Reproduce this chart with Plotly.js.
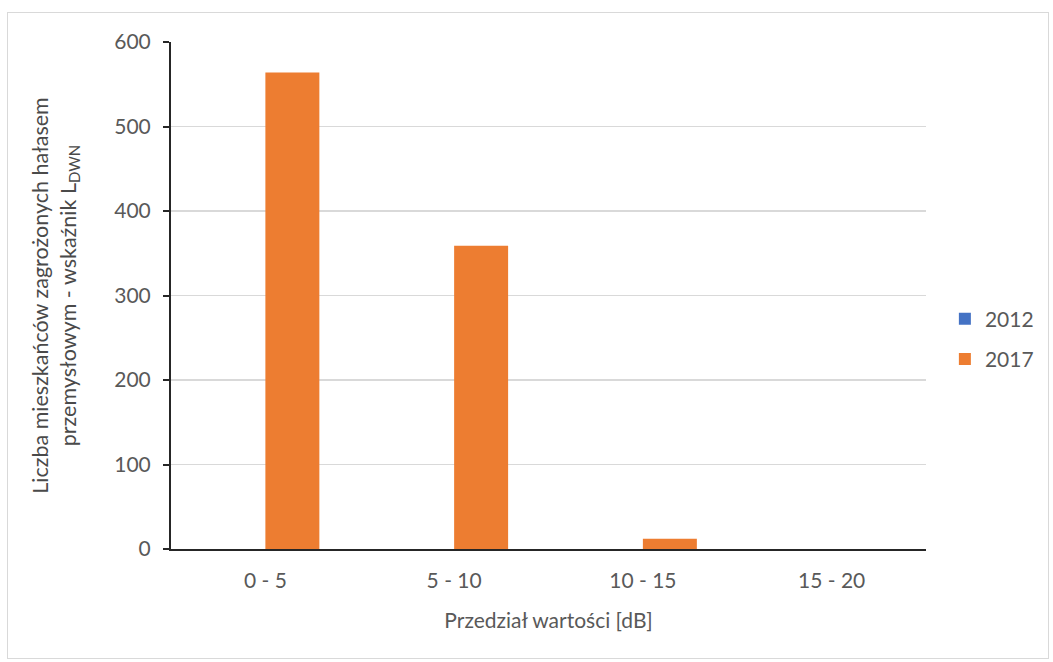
<!DOCTYPE html>
<html>
<head>
<meta charset="utf-8">
<script src="https://cdn.plot.ly/plotly-3.0.1.min.js"></script>
<style>
  html, body { margin: 0; padding: 0; background: #fff; }
  #chart { width: 1053px; height: 662px; position: absolute; left: 0; top: 0; }
  #frame { position: absolute; left: 7px; top: 12px; width: 1040px; height: 645px; border: 1px solid #d9d9d9; pointer-events: none; }
</style>
</head>
<body>
<div id="chart"></div>
<div id="frame"></div>
<script>
const categories = ["0 - 5", "5 - 10", "10 - 15", "15 - 20"];
const values2012 = [0, 0, 0, 0];
const values2017 = [564, 359, 12, 0];
const seriesNames = ["2012", "2017"];
const yTicks = [0, 100, 200, 300, 400, 500, 600];

const fontFamily = "Lato, 'Open Sans', sans-serif";
const gray = "#595959";

const traces = [
  { type: "bar", name: seriesNames[0], x: categories, y: values2012,
    marker: { color: "#4472C4" }, legendgroup: "a" },
  { type: "bar", name: seriesNames[1], x: categories, y: values2017,
    marker: { color: "#ED7D31" }, legendgroup: "b" }
];

const layout = {
  width: 1053, height: 662,
  margin: { l: 171, r: 127, t: 42, b: 113, autoexpand: false },
  paper_bgcolor: "#fff", plot_bgcolor: "#fff",
  barmode: "group", bargap: 0.428, bargroupgap: 0,
  font: { family: fontFamily, color: gray, size: 21 },
  xaxis: {
    type: "category",
    showline: true, linecolor: "#262626", linewidth: 2,
    ticks: "", showgrid: false,
    ticklabelstandoff: 12,
    tickfont: { size: 21, color: gray },
    title: { text: "Przedział wartości [dB]", font: { size: 21, color: gray }, standoff: 22 }
  },
  yaxis: {
    range: [0, 600], tickvals: yTicks,
    showline: true, linecolor: "#262626", linewidth: 2,
    ticks: "outside", ticklen: 6, tickcolor: "#262626", tickwidth: 2,
    ticklabelstandoff: 8,
    showgrid: true, gridcolor: "#d9d9d9", gridwidth: 1.5,
    zeroline: false,
    tickfont: { size: 21, color: gray },
    title: { text: "Liczba mieszkańców zagrożonych hałasem<br>przemysłowym - wskaźnik L<sub>DWN</sub>", font: { size: 21.5, color: "#4a4a4a" }, standoff: 32 }
  },
  legend: {
    x: 1.025, y: 0.414, xanchor: "left", yanchor: "middle",
    font: { size: 21, color: gray },
    traceorder: "grouped", tracegroupgap: 10,
    itemwidth: 30
  },
  showlegend: true
};

Plotly.newPlot("chart", traces, layout, { displayModeBar: false, staticPlot: true });
</script>
</body>
</html>
